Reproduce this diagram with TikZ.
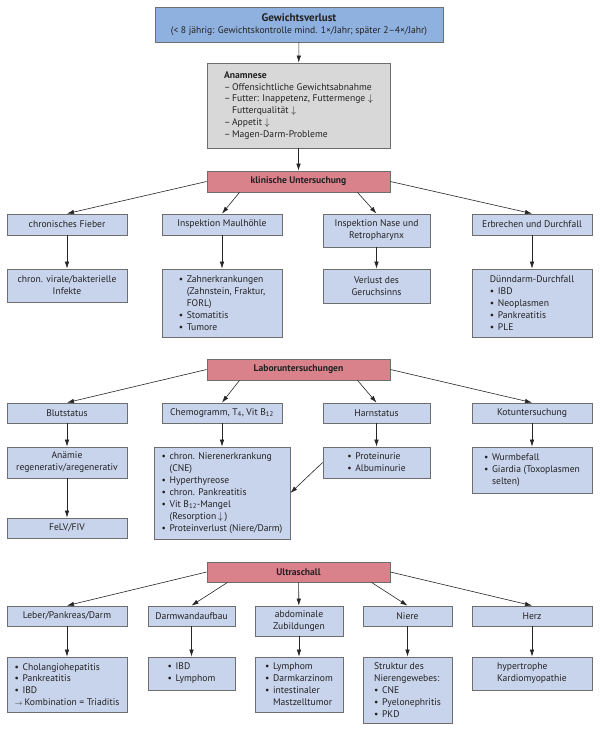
\documentclass[tikz,border=0pt]{standalone}
\usepackage{fontspec}
\setmainfont{PT Sans}
\usetikzlibrary{arrows.meta}
\definecolor{boxblue}{HTML}{C8D3EC}
\definecolor{topblue}{HTML}{8FB1DF}
\definecolor{boxgray}{HTML}{D8D8D8}
\definecolor{boxred}{HTML}{D9828C}
\definecolor{edgegray}{HTML}{6E6E6E}
\definecolor{textdark}{HTML}{222222}
\newcommand{\bul}{\makebox[8pt][l]{\textbullet}}
\newcommand{\hind}{\hspace*{8pt}}
\newcommand{\dsh}{\makebox[8pt][l]{–}}
\newcommand{\arrto}{\makebox[10pt][l]{$\scriptstyle\rightarrow$}}
\tikzset{
  base/.style={draw=edgegray,line width=0.8pt,align=center,inner sep=2pt,text=textdark,font=\fontsize{9.6}{11.9}\selectfont},
  blu/.style={base,fill=boxblue},
  blul/.style={blu,align=left},
  hdr/.style={base,fill=boxred,font=\fontsize{9.6}{11.9}\selectfont\bfseries},
  sz/.style 2 args={minimum width=#1pt,minimum height=#2pt},
  arr/.style={-{Latex[length=7pt,width=4.5pt]},line width=0.6pt,draw=black!85}
}
\begin{document}
\begin{tikzpicture}[x=1pt,y=-1pt]
\useasboundingbox[fill=white] (0,0) rectangle (600,732);
% top
\node[base,fill=topblue,sz={288}{35}] (gew) at (299,24.5){{\fontsize{11}{13}\selectfont\bfseries Gewichtsverlust}\\(< 8 jährig: Gewichtskontrolle mind. 1×/Jahr; später 2–4×/Jahr)};
\node[base,fill=boxgray,align=left,sz={183}{85}] (anam) at (298.5,105.5){\textbf{Anamnese}\\\dsh Offensichtliche Gewichtsabnahme\\\dsh Futter: Inappetenz, Futtermenge $\downarrow$\\\hind Futterqualität $\downarrow$\\\dsh Appetit $\downarrow$\\\dsh Magen-Darm-Probleme};
\node[hdr,sz={183}{21}] (klin) at (298.5,181.5){klinische Untersuchung};
\draw[arr] (gew) -- (anam);\draw[arr] (anam) -- (klin);
% klinische Untersuchung
\node[blu,sz={120}{21}] (fieber) at (67,224.5){chronisches Fieber};
\node[blu,sz={120}{21}] (maul) at (222,224.5){Inspektion Maulhöhle};
\node[blu,sz={107}{33}] (nase) at (376.5,230.5){Inspektion Nase und\\Retropharynx};
\node[blu,sz={120}{21}] (durch) at (532,224.5){Erbrechen und Durchfall};
\node[blu,sz={120}{33}] (fieberR) at (67,285.5){chron. virale/bakterielle\\Infekte};
\node[blul,sz={120}{68}] (maulR) at (222,303){\bul Zahnerkrankungen\\\hind(Zahnstein, Fraktur,\\\hind FORL)\\\bul Stomatitis\\\bul Tumore};
\node[blu,sz={107}{34}] (naseR) at (376.5,286){Verlust des\\Geruchsinns};
\node[blul,sz={120}{68}] (durchR) at (532,303){Dünndarm-Durchfall\\\bul IBD\\\bul Neoplasmen\\\bul Pankreatitis\\\bul PLE};
\draw[arr] (klin.west) -- (fieber.north);\draw[arr] ([xshift=-59pt]klin.south) -- (maul.north);
\draw[arr] ([xshift=59pt]klin.south) -- (nase.north);\draw[arr] (klin.east) -- (durch.north);
\draw[arr] (fieber) -- (fieberR);\draw[arr] (maul) -- (maulR);\draw[arr] (nase) -- (naseR);\draw[arr] (durch) -- (durchR);
% Laboruntersuchungen
\node[hdr,sz={183}{21}] (labor) at (298.5,369.5){Laboruntersuchungen};
\node[blu,sz={120}{20}] (blut) at (67,413){Blutstatus};
\node[blu,sz={120}{20}] (chemo) at (222,413){Chemogramm, T\textsubscript{4}, Vit B\textsubscript{12}};
\node[blu,sz={107}{20}] (harn) at (376.5,413){Harnstatus};
\node[blu,sz={120}{20}] (kot) at (532,413){Kotuntersuchung};
\node[blu,sz={120}{31}] (anaem) at (67,462.5){Anämie\\regenerativ/aregenerativ};
\node[blul,sz={136}{92}] (chemoR) at (222,493){\bul chron. Nierenerkrankung\\\hind(CNE)\\\bul Hyperthyreose\\\bul chron. Pankreatitis\\\bul Vit B\textsubscript{12}-Mangel\\\hind(Resorption\,$\downarrow$\,)\\\bul Proteinverlust (Niere/Darm)};
\node[blul,sz={107}{31}] (harnR) at (376.5,462.5){\bul Proteinurie\\\bul Albuminurie};
\node[blul,sz={120}{46}] (kotR) at (532,470){\bul Wurmbefall\\\bul Giardia (Toxoplasmen\\\hind selten)};
\node[blu,sz={120}{20}] (felv) at (67,528){FeLV/FIV};
\draw[arr] (labor.west) -- (blut.north);\draw[arr] ([xshift=-59pt]labor.south) -- (chemo.north);
\draw[arr] ([xshift=59pt]labor.south) -- (harn.north);\draw[arr] (labor.east) -- (kot.north);
\draw[arr] (blut) -- (anaem);\draw[arr] (anaem) -- (felv);\draw[arr] (chemo) -- (chemoR);
\draw[arr] (harn) -- (harnR);\draw[arr] (kot) -- (kotR);\draw[arr] (harnR.west) -- (chemoR.east);
% Ultraschall
\node[hdr,sz={183}{20}] (ultra) at (298.5,572){Ultraschall};
\node[blu,sz={120}{20}] (leber) at (67,616){Leber/Pankreas/Darm};
\node[blu,sz={87}{20}] (darm) at (191.5,616){Darmwandaufbau};
\node[blu,sz={88}{30}] (abd) at (299,621){abdominale\\Zubildungen};
\node[blu,sz={89}{20}] (niere) at (407.5,616){Niere};
\node[blu,sz={120}{20}] (herz) at (532,616){Herz};
\node[blul,sz={120}{55}] (leberR) at (67,684.5){\bul Cholangiohepatitis\\\bul Pankreatitis\\\bul IBD\\\arrto Kombination = Triaditis};
\node[blul,sz={87}{33}] (darmR) at (191.5,673.5){\bul IBD\\\bul Lymphom};
\node[blul,sz={88}{55}] (abdR) at (299,684.5){\bul Lymphom\\\bul Darmkarzinom\\\bul intestinaler\\\hind Mastzelltumor};
\node[blul,sz={89}{66}] (niereR) at (407.5,690){Struktur des\\Nierengewebes:\\\bul CNE\\\bul Pyelonephritis\\\bul PKD};
\node[blul,sz={120}{33}] (herzR) at (532,673.5){hypertrophe\\Kardiomyopathie};
\draw[arr] (ultra.west) -- (leber.north);\draw[arr] ([xshift=-71pt]ultra.south) -- (darm.north);
\draw[arr] (ultra) -- (abd);\draw[arr] ([xshift=73pt]ultra.south) -- (niere.north);\draw[arr] (ultra.east) -- (herz.north);
\draw[arr] (leber) -- (leberR);\draw[arr] (darm) -- (darmR);\draw[arr] (abd) -- (abdR);\draw[arr] (niere) -- (niereR);\draw[arr] (herz) -- (herzR);
\end{tikzpicture}
\end{document}
